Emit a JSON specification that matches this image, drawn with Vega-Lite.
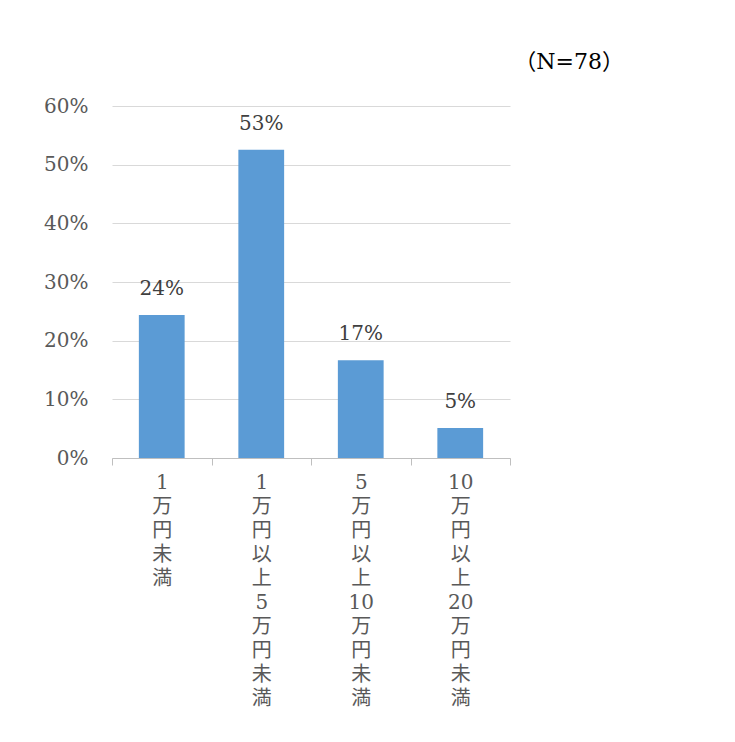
{
  "$schema": "https://vega.github.io/schema/vega-lite/v6.json",
  "autosize": {"type": "none"},
  "padding": {"left": 112, "top": 106, "right": 225, "bottom": 284},
  "width": 398,
  "height": 352,
  "background": "white",
  "title": {
    "text": "（N=78）",
    "anchor": "end",
    "frame": "group",
    "dx": 114,
    "offset": 22,
    "font": "DejaVu Serif, Noto Sans CJK JP",
    "fontSize": 22,
    "fontWeight": "normal",
    "color": "#000000"
  },
  "data": {
    "values": [
      {"category": "1万円未満", "share": 0.2436},
      {"category": "1万円以上5万円未満", "share": 0.5256},
      {"category": "5万円以上10万円未満", "share": 0.1667},
      {"category": "10万円以上20万円未満", "share": 0.0513}
    ]
  },
  "encoding": {
    "x": {
      "field": "category",
      "type": "nominal",
      "sort": null,
      "scale": {"paddingInner": 0, "paddingOuter": 0},
      "axis": {
        "title": null,
        "labelAngle": 0,
        "labelExpr": "split(replace(datum.label, /(\\d+|\\D)(?=.)/g, '$1|'), '|')",
        "labelBaseline": "top",
        "labelAlign": "center",
        "labelPadding": 7,
        "labelFont": "DejaVu Serif, Noto Sans CJK JP",
        "labelFontSize": 20,
        "labelLineHeight": 24,
        "labelColor": "#595959",
        "domainColor": "#bfbfbf",
        "tickColor": "#bfbfbf",
        "tickSize": 7,
        "tickBand": "extent",
        "grid": false
      }
    },
    "y": {
      "field": "share",
      "type": "quantitative",
      "scale": {"domain": [0, 0.6]},
      "axis": {
        "title": null,
        "format": ".0%",
        "values": [0, 0.1, 0.2, 0.3, 0.4, 0.5, 0.6],
        "domain": false,
        "ticks": false,
        "labelPadding": 24,
        "labelFont": "DejaVu Serif",
        "labelFontSize": 20,
        "labelColor": "#595959",
        "gridColor": "#d9d9d9",
        "gridWidth": 1
      }
    }
  },
  "layer": [
    {"mark": {"type": "bar", "color": "#5b9bd5", "width": {"band": 0.46}}},
    {
      "mark": {
        "type": "text",
        "baseline": "bottom",
        "dy": -16,
        "font": "DejaVu Serif",
        "fontSize": 20,
        "color": "#404040"
      },
      "encoding": {"text": {"field": "share", "type": "quantitative", "format": ".0%"}}
    }
  ],
  "config": {"view": {"stroke": null}}
}
